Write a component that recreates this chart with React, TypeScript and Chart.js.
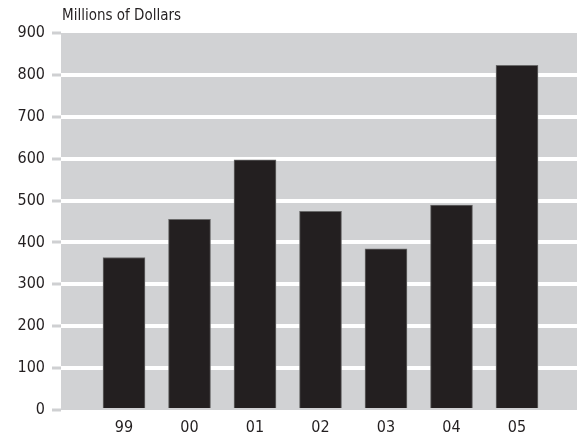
import React, { useEffect, useRef } from "react";
import { Chart, registerables } from "chart.js";

Chart.register(...registerables);

const years = ["99", "00", "01", "02", "03", "04", "05"];
const values = [364, 455, 597, 474, 385, 489, 823];
const yTicks = [0, 100, 200, 300, 400, 500, 600, 700, 800, 900];
const titleText = "Millions of Dollars";

const FONT = "'DejaVu Sans Condensed', 'Liberation Sans Narrow', sans-serif";
const TEXT = "#231f20";
const PLOT_BG = "#d1d2d4";

export default function App() {
  const ref = useRef<HTMLCanvasElement | null>(null);

  useEffect(() => {
    document.body.style.margin = "0";
    const canvas = ref.current;
    if (!canvas) return;

    const bgPlugin = {
      id: "bg",
      beforeDraw(chart: any) {
        const { ctx, chartArea } = chart;
        ctx.save();
        ctx.fillStyle = "#ffffff";
        ctx.fillRect(0, 0, chart.width, chart.height);
        ctx.fillStyle = PLOT_BG;
        ctx.fillRect(chartArea.left, chartArea.top, chartArea.right - chartArea.left, chartArea.bottom - chartArea.top);
        ctx.restore();
      },
      afterDraw(chart: any) {
        const { ctx, chartArea } = chart;
        ctx.save();
        ctx.fillStyle = TEXT;
        ctx.font = `15px ${FONT}`;
        ctx.textAlign = "left";
        ctx.textBaseline = "alphabetic";
        ctx.fillText(titleText, chartArea.left + 1, 20);
        ctx.restore();
      },
    };

    const chart = new Chart(canvas, {
      type: "bar",
      data: {
        datasets: [
          {
            data: values.map((v, i) => ({ x: i, y: v })),
            backgroundColor: "#231f20",
            borderColor: "#6a6a6a",
            borderWidth: 1,
            barThickness: 42,
          },
        ],
      },
      options: {
        responsive: false,
        animation: false,
        devicePixelRatio: 1,
        layout: { padding: { top: 33, left: 0, right: 0, bottom: 0 } },
        plugins: { legend: { display: false }, tooltip: { enabled: false } },
        scales: {
          x: {
            type: "linear",
            offset: false,
            min: -0.962,
            max: 6.916,
            afterFit(scale: any) {
              scale.height = 27;
            },
            afterBuildTicks(scale: any) {
              scale.ticks = years.map((_, i) => ({ value: i }));
            },
            grid: { display: false, drawTicks: false },
            border: { display: false },
            ticks: {
              autoSkip: false,
              maxRotation: 0,
              padding: 8,
              color: TEXT,
              font: { family: FONT, size: 16 },
              callback: (v: any) => years[v as number] ?? "",
            },
          },
          y: {
            min: 0,
            max: 900,
            afterFit(scale: any) {
              scale.width = 61;
            },
            afterBuildTicks(scale: any) {
              scale.ticks = yTicks.map((v) => ({ value: v }));
            },
            border: { display: false },
            grid: {
              lineWidth: 4,
              color: (c: any) =>
                c.tick && (c.tick.value === 0 || c.tick.value === 900) ? "rgba(0,0,0,0)" : "#ffffff",
              drawTicks: true,
              tickLength: 9,
              tickWidth: 3,
              tickColor: "#cfd0d2",
            },
            ticks: {
              padding: 7,
              color: TEXT,
              font: { family: FONT, size: 16 },
            },
          },
        },
      },
      plugins: [bgPlugin],
    } as any);

    return () => chart.destroy();
  }, []);

  return <canvas ref={ref} width={577} height={437} style={{ display: "block" }} />;
}
